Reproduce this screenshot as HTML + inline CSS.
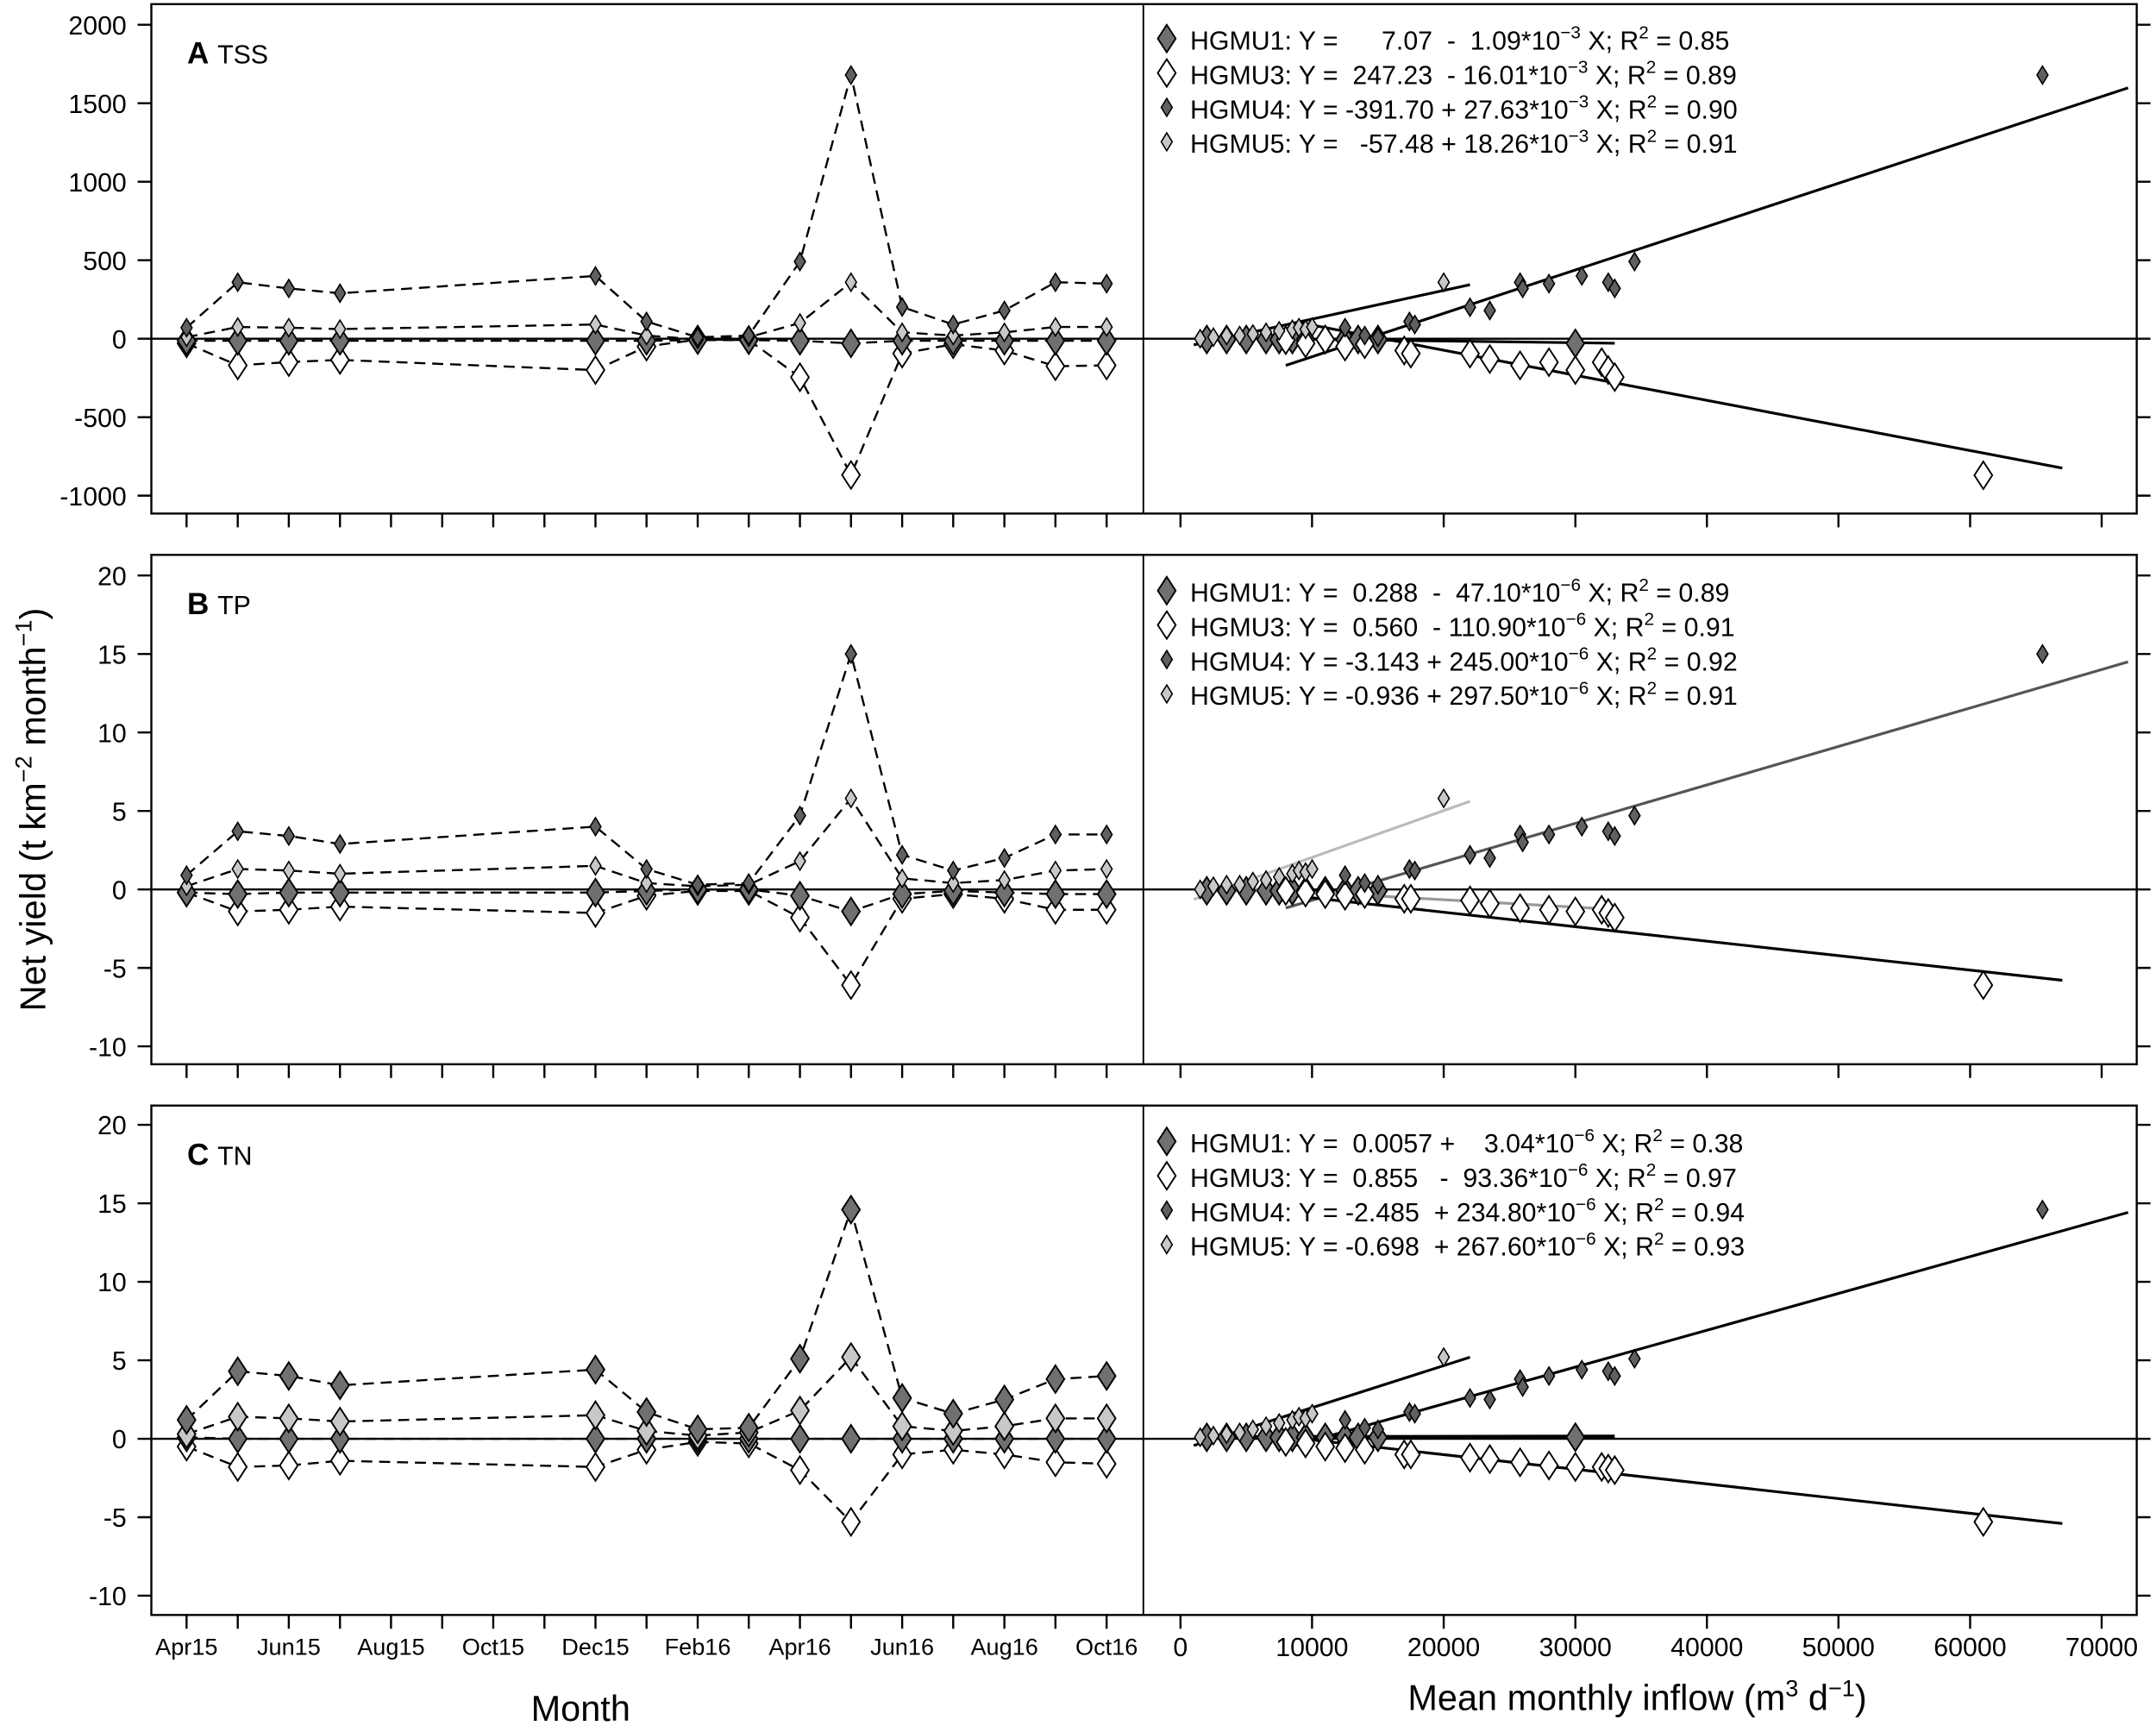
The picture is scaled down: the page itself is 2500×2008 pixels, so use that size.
<!DOCTYPE html>
<html><head><meta charset="utf-8"><style>
html,body{margin:0;padding:0;background:#fff}
svg{display:block}
text{font-family:"Liberation Sans",sans-serif;fill:#000}
.t{font-size:19px}
.m{font-size:17px}
.lg{font-size:19px}
</style></head><body>
<svg width="2500" height="2008" viewBox="0 0 1567 1258" preserveAspectRatio="none" xmlns="http://www.w3.org/2000/svg">
<defs>
<path id="bd" d="M0,-10 L6.5,0 L0,10 L-6.5,0Z" fill="#707070" stroke="#000" stroke-width="1.2"/>
<path id="bw" d="M0,-10 L6.5,0 L0,10 L-6.5,0Z" fill="#fff" stroke="#000" stroke-width="1.2"/>
<path id="sd" d="M0,-6.5 L4,0 L0,6.5 L-4,0Z" fill="#606060" stroke="#000" stroke-width="1"/>
<path id="sl" d="M0,-6.5 L4,0 L0,6.5 L-4,0Z" fill="#c8c8c8" stroke="#000" stroke-width="1"/>
<path id="bl" d="M0,-10 L6.5,0 L0,10 L-6.5,0Z" fill="#c8c8c8" stroke="#000" stroke-width="1.2"/>
</defs>
<g fill="none" stroke="#000" stroke-width="1.5">
<rect x="110" y="3" width="1443" height="370"/>
<rect x="110" y="403" width="1443" height="370"/>
<rect x="110" y="803" width="1443" height="370"/>
<path d="M831,3V373M831,403V773M831,803V1173" stroke-width="1.2"/>
<path d="M110,246H1553M110,646H1553M110,1045H1553"/>
<path d="M100,18H110M100,75H110M100,132H110M100,189H110M100,246H110M100,303H110M100,360H110
M100,418H110M100,475H110M100,532H110M100,589H110M100,646H110M100,703H110M100,760H110
M100,817H110M100,874H110M100,931H110M100,988H110M100,1045H110M100,1102H110M100,1159H110"/>
<path d="M1553,18H1563M1553,75H1563M1553,132H1563M1553,189H1563M1553,246H1563M1553,303H1563M1553,360H1563
M1553,418H1563M1553,475H1563M1553,532H1563M1553,589H1563M1553,646H1563M1553,703H1563M1553,760H1563
M1553,817H1563M1553,874H1563M1553,931H1563M1553,988H1563M1553,1045H1563M1553,1102H1563M1553,1159H1563"/>
<path id="bt" d="M135.6,0v10M172.8,0v10M209.9,0v10M247.1,0v10M284.2,0v10M321.4,0v10M358.5,0v10M395.7,0v10M432.8,0v10M469.9,0v10M507.1,0v10M544.2,0v10M581.4,0v10M618.5,0v10M655.7,0v10M692.8,0v10M730,0v10M767.1,0v10M804.3,0v10M858,0v10M953.6,0v10M1049.3,0v10M1145,0v10M1240.6,0v10M1336.2,0v10M1431.9,0v10M1527.5,0v10" transform="translate(0,373)"/>
<use href="#bt" y="400"/>
<use href="#bt" y="800"/>
</g>
<g class="t" text-anchor="end">
<text x="92" y="25">2000</text><text x="92" y="82">1500</text><text x="92" y="139">1000</text><text x="92" y="196">500</text><text x="92" y="253">0</text><text x="92" y="310">-500</text><text x="92" y="367">-1000</text>
<text x="92" y="425">20</text><text x="92" y="482">15</text><text x="92" y="539">10</text><text x="92" y="596">5</text><text x="92" y="653">0</text><text x="92" y="710">-5</text><text x="92" y="767">-10</text>
<text x="92" y="824">20</text><text x="92" y="881">15</text><text x="92" y="938">10</text><text x="92" y="995">5</text><text x="92" y="1052">0</text><text x="92" y="1109">-5</text><text x="92" y="1166">-10</text>
</g>
<g class="m" text-anchor="middle">
<text x="135.6" y="1202">Apr15</text><text x="209.9" y="1202">Jun15</text><text x="284.2" y="1202">Aug15</text><text x="358.5" y="1202">Oct15</text><text x="432.8" y="1202">Dec15</text><text x="507.1" y="1202">Feb16</text><text x="581.4" y="1202">Apr16</text><text x="655.7" y="1202">Jun16</text><text x="730" y="1202">Aug16</text><text x="804.3" y="1202">Oct16</text>
</g>
<g class="t" text-anchor="middle">
<text x="858" y="1203">0</text><text x="953.6" y="1203">10000</text><text x="1049.3" y="1203">20000</text><text x="1145" y="1203">30000</text><text x="1240.6" y="1203">40000</text><text x="1336.2" y="1203">50000</text><text x="1431.9" y="1203">60000</text><text x="1527.5" y="1203">70000</text>
</g>
<text x="422" y="1250" text-anchor="middle" style="font-size:26px">Month</text>
<text x="1190" y="1242" text-anchor="middle" style="font-size:26px">Mean monthly inflow (m<tspan dy="-10" style="font-size:17px">3</tspan><tspan dy="10"> d</tspan><tspan dy="-10" style="font-size:17px">−1</tspan><tspan dy="10">)</tspan></text>
<text transform="translate(33,588) rotate(-90)" text-anchor="middle" style="font-size:26px">Net yield (t km<tspan dy="-10" style="font-size:17px">−2</tspan><tspan dy="10"> month</tspan><tspan dy="-10" style="font-size:17px">−1</tspan><tspan dy="10">)</tspan></text>
<text x="136" y="46" style="font-size:22px;font-weight:bold">A</text><text x="158" y="46" style="font-size:19px">TSS</text>
<text x="136" y="446" style="font-size:22px;font-weight:bold">B</text><text x="158" y="446" style="font-size:19px">TP</text>
<text x="136" y="846" style="font-size:22px;font-weight:bold">C</text><text x="158" y="846" style="font-size:19px">TN</text>

<g fill="none" stroke="#000" stroke-width="1.5" stroke-dasharray="8,5">
<polyline points="135.6,238 172.8,205 209.9,209.5 247.1,213 432.8,200.4 469.9,233.5 507.1,245 544.2,243.7 581.4,190 618.5,54.5 655.7,223 692.8,235.7 730,225.5 767.1,205 804.3,206"/>
<polyline points="135.6,244.9 172.8,237.5 209.9,238 247.1,239 432.8,235.7 469.9,243.7 507.1,246.6 544.2,244.9 581.4,234.6 618.5,205 655.7,241.4 692.8,243.7 730,241.4 767.1,237.5 804.3,237.5"/>
<polyline points="135.6,247.5 172.8,247.5 209.9,247.5 247.1,247.5 432.8,247.5 469.9,247.5 507.1,247 544.2,247 581.4,247.5 618.5,249.4 655.7,247.5 692.8,247.5 730,247.5 767.1,247.5 804.3,247.5"/>
<polyline points="135.6,249.4 172.8,265.4 209.9,263 247.1,261.4 432.8,268.8 469.9,251.7 507.1,246.6 544.2,247 581.4,274 618.5,345 655.7,256.8 692.8,250 730,254.6 767.1,266 804.3,265.4"/>
<polyline points="135.6,635.7 172.8,603.8 209.9,607.2 247.1,613 432.8,600.4 469.9,631.2 507.1,642.6 544.2,641.4 581.4,592.4 618.5,475 655.7,620.9 692.8,632.3 730,623.2 767.1,606.1 804.3,606.1"/>
<polyline points="135.6,643.7 172.8,631.2 209.9,632.3 247.1,634.6 432.8,628.9 469.9,641.4 507.1,643.7 544.2,642.6 581.4,625.5 618.5,579.9 655.7,638 692.8,641.4 730,639.2 767.1,632.3 804.3,631.2"/>
<polyline points="135.6,648.3 172.8,649.4 209.9,648.3 247.1,648.3 432.8,648.3 469.9,647.1 507.1,646 544.2,646 581.4,650.6 618.5,662 655.7,649.4 692.8,647.1 730,648.3 767.1,649.4 804.3,649.4"/>
<polyline points="135.6,648.3 172.8,662 209.9,660.8 247.1,658.5 432.8,663.1 469.9,650.6 507.1,647.1 544.2,647.1 581.4,666.5 618.5,715.5 655.7,652.8 692.8,649.4 730,652.8 767.1,660.8 804.3,660.8"/>
<polyline points="135.6,1031.3 172.8,996 209.9,999.4 247.1,1006.2 432.8,994.8 469.9,1025.6 507.1,1038.2 544.2,1037 581.4,986.9 618.5,878.6 655.7,1015.4 692.8,1026.8 730,1016.5 767.1,1001.7 804.3,999.4"/>
<polyline points="135.6,1041.6 172.8,1029 209.9,1030.2 247.1,1032.5 432.8,1027.9 469.9,1039.3 507.1,1042.7 544.2,1040.4 581.4,1024.5 618.5,985.7 655.7,1035.9 692.8,1039.3 730,1035.9 767.1,1030.2 804.3,1030.2"/>
<polyline points="135.6,1044 172.8,1045 209.9,1045 247.1,1045 432.8,1045 469.9,1045 507.1,1045 544.2,1045 581.4,1045 618.5,1045 655.7,1045 692.8,1045 730,1045 767.1,1045 804.3,1045"/>
<polyline points="135.6,1050.7 172.8,1065.5 209.9,1064.4 247.1,1061 432.8,1065.5 469.9,1053 507.1,1047.3 544.2,1048.4 581.4,1067.8 618.5,1105.4 655.7,1056.4 692.8,1053 730,1056.4 767.1,1062.1 804.3,1063.2"/>
</g>

<g>
<use href="#bw" x="135.6" y="249.4"/><use href="#bw" x="172.8" y="265.4"/><use href="#bw" x="209.9" y="263"/><use href="#bw" x="247.1" y="261.4"/><use href="#bw" x="432.8" y="268.8"/><use href="#bw" x="469.9" y="251.7"/><use href="#bw" x="507.1" y="246.6"/><use href="#bw" x="544.2" y="247"/><use href="#bw" x="581.4" y="274"/><use href="#bw" x="618.5" y="345"/><use href="#bw" x="655.7" y="256.8"/><use href="#bw" x="692.8" y="250"/><use href="#bw" x="730" y="254.6"/><use href="#bw" x="767.1" y="266"/><use href="#bw" x="804.3" y="265.4"/>
<use href="#bd" x="135.6" y="247.5"/><use href="#bd" x="172.8" y="247.5"/><use href="#bd" x="209.9" y="247.5"/><use href="#bd" x="247.1" y="247.5"/><use href="#bd" x="432.8" y="247.5"/><use href="#bd" x="469.9" y="247.5"/><use href="#bd" x="507.1" y="247"/><use href="#bd" x="544.2" y="247"/><use href="#bd" x="581.4" y="247.5"/><use href="#bd" x="618.5" y="249.4"/><use href="#bd" x="655.7" y="247.5"/><use href="#bd" x="692.8" y="247.5"/><use href="#bd" x="730" y="247.5"/><use href="#bd" x="767.1" y="247.5"/><use href="#bd" x="804.3" y="247.5"/>
<use href="#sl" x="135.6" y="244.9"/><use href="#sl" x="172.8" y="237.5"/><use href="#sl" x="209.9" y="238"/><use href="#sl" x="247.1" y="239"/><use href="#sl" x="432.8" y="235.7"/><use href="#sl" x="469.9" y="243.7"/><use href="#sl" x="507.1" y="246.6"/><use href="#sl" x="544.2" y="244.9"/><use href="#sl" x="581.4" y="234.6"/><use href="#sl" x="618.5" y="205"/><use href="#sl" x="655.7" y="241.4"/><use href="#sl" x="692.8" y="243.7"/><use href="#sl" x="730" y="241.4"/><use href="#sl" x="767.1" y="237.5"/><use href="#sl" x="804.3" y="237.5"/>
<use href="#sd" x="135.6" y="238"/><use href="#sd" x="172.8" y="205"/><use href="#sd" x="209.9" y="209.5"/><use href="#sd" x="247.1" y="213"/><use href="#sd" x="432.8" y="200.4"/><use href="#sd" x="469.9" y="233.5"/><use href="#sd" x="507.1" y="245"/><use href="#sd" x="544.2" y="243.7"/><use href="#sd" x="581.4" y="190"/><use href="#sd" x="618.5" y="54.5"/><use href="#sd" x="655.7" y="223"/><use href="#sd" x="692.8" y="235.7"/><use href="#sd" x="730" y="225.5"/><use href="#sd" x="767.1" y="205"/><use href="#sd" x="804.3" y="206"/>
</g>
<g>
<use href="#bw" x="135.6" y="648.3"/><use href="#bw" x="172.8" y="662"/><use href="#bw" x="209.9" y="660.8"/><use href="#bw" x="247.1" y="658.5"/><use href="#bw" x="432.8" y="663.1"/><use href="#bw" x="469.9" y="650.6"/><use href="#bw" x="507.1" y="647.1"/><use href="#bw" x="544.2" y="647.1"/><use href="#bw" x="581.4" y="666.5"/><use href="#bw" x="618.5" y="715.5"/><use href="#bw" x="655.7" y="652.8"/><use href="#bw" x="692.8" y="649.4"/><use href="#bw" x="730" y="652.8"/><use href="#bw" x="767.1" y="660.8"/><use href="#bw" x="804.3" y="660.8"/>
<use href="#bd" x="135.6" y="648.3"/><use href="#bd" x="172.8" y="649.4"/><use href="#bd" x="209.9" y="648.3"/><use href="#bd" x="247.1" y="648.3"/><use href="#bd" x="432.8" y="648.3"/><use href="#bd" x="469.9" y="647.1"/><use href="#bd" x="507.1" y="646"/><use href="#bd" x="544.2" y="646"/><use href="#bd" x="581.4" y="650.6"/><use href="#bd" x="618.5" y="662"/><use href="#bd" x="655.7" y="649.4"/><use href="#bd" x="692.8" y="647.1"/><use href="#bd" x="730" y="648.3"/><use href="#bd" x="767.1" y="649.4"/><use href="#bd" x="804.3" y="649.4"/>
<use href="#sl" x="135.6" y="643.7"/><use href="#sl" x="172.8" y="631.2"/><use href="#sl" x="209.9" y="632.3"/><use href="#sl" x="247.1" y="634.6"/><use href="#sl" x="432.8" y="628.9"/><use href="#sl" x="469.9" y="641.4"/><use href="#sl" x="507.1" y="643.7"/><use href="#sl" x="544.2" y="642.6"/><use href="#sl" x="581.4" y="625.5"/><use href="#sl" x="618.5" y="579.9"/><use href="#sl" x="655.7" y="638"/><use href="#sl" x="692.8" y="641.4"/><use href="#sl" x="730" y="639.2"/><use href="#sl" x="767.1" y="632.3"/><use href="#sl" x="804.3" y="631.2"/>
<use href="#sd" x="135.6" y="635.7"/><use href="#sd" x="172.8" y="603.8"/><use href="#sd" x="209.9" y="607.2"/><use href="#sd" x="247.1" y="613"/><use href="#sd" x="432.8" y="600.4"/><use href="#sd" x="469.9" y="631.2"/><use href="#sd" x="507.1" y="642.6"/><use href="#sd" x="544.2" y="641.4"/><use href="#sd" x="581.4" y="592.4"/><use href="#sd" x="618.5" y="475"/><use href="#sd" x="655.7" y="620.9"/><use href="#sd" x="692.8" y="632.3"/><use href="#sd" x="730" y="623.2"/><use href="#sd" x="767.1" y="606.1"/><use href="#sd" x="804.3" y="606.1"/>
</g>
<g>
<use href="#bw" x="135.6" y="1050.7"/><use href="#bw" x="172.8" y="1065.5"/><use href="#bw" x="209.9" y="1064.4"/><use href="#bw" x="247.1" y="1061"/><use href="#bw" x="432.8" y="1065.5"/><use href="#bw" x="469.9" y="1053"/><use href="#bw" x="507.1" y="1047.3"/><use href="#bw" x="544.2" y="1048.4"/><use href="#bw" x="581.4" y="1067.8"/><use href="#bw" x="618.5" y="1105.4"/><use href="#bw" x="655.7" y="1056.4"/><use href="#bw" x="692.8" y="1053"/><use href="#bw" x="730" y="1056.4"/><use href="#bw" x="767.1" y="1062.1"/><use href="#bw" x="804.3" y="1063.2"/>
<use href="#bd" x="135.6" y="1044"/><use href="#bd" x="172.8" y="1045"/><use href="#bd" x="209.9" y="1045"/><use href="#bd" x="247.1" y="1045"/><use href="#bd" x="432.8" y="1045"/><use href="#bd" x="469.9" y="1045"/><use href="#bd" x="507.1" y="1045"/><use href="#bd" x="544.2" y="1045"/><use href="#bd" x="581.4" y="1045"/><use href="#bd" x="618.5" y="1045"/><use href="#bd" x="655.7" y="1045"/><use href="#bd" x="692.8" y="1045"/><use href="#bd" x="730" y="1045"/><use href="#bd" x="767.1" y="1045"/><use href="#bd" x="804.3" y="1045"/>
<use href="#bl" x="135.6" y="1041.6"/><use href="#bl" x="172.8" y="1029"/><use href="#bl" x="209.9" y="1030.2"/><use href="#bl" x="247.1" y="1032.5"/><use href="#bl" x="432.8" y="1027.9"/><use href="#bl" x="469.9" y="1039.3"/><use href="#bl" x="507.1" y="1042.7"/><use href="#bl" x="544.2" y="1040.4"/><use href="#bl" x="581.4" y="1024.5"/><use href="#bl" x="618.5" y="985.7"/><use href="#bl" x="655.7" y="1035.9"/><use href="#bl" x="692.8" y="1039.3"/><use href="#bl" x="730" y="1035.9"/><use href="#bl" x="767.1" y="1030.2"/><use href="#bl" x="804.3" y="1030.2"/>
<use href="#bd" x="135.6" y="1031.3"/><use href="#bd" x="172.8" y="996"/><use href="#bd" x="209.9" y="999.4"/><use href="#bd" x="247.1" y="1006.2"/><use href="#bd" x="432.8" y="994.8"/><use href="#bd" x="469.9" y="1025.6"/><use href="#bd" x="507.1" y="1038.2"/><use href="#bd" x="544.2" y="1037"/><use href="#bd" x="581.4" y="986.9"/><use href="#bd" x="618.5" y="878.6"/><use href="#bd" x="655.7" y="1015.4"/><use href="#bd" x="692.8" y="1026.8"/><use href="#bd" x="730" y="1016.5"/><use href="#bd" x="767.1" y="1001.7"/><use href="#bd" x="804.3" y="999.4"/>
</g>

<g stroke="#000" stroke-width="2" fill="none">
<line x1="934.5" y1="265.4" x2="1546.7" y2="63.8"/>
<line x1="944" y1="234.3" x2="1498.9" y2="340"/>
<line x1="867.6" y1="250.5" x2="1068.4" y2="206.8"/>
<line x1="877" y1="245.4" x2="1173.6" y2="249.3"/>
</g>
<g>
<use href="#bd" x="877.1" y="246.6"/><use href="#bd" x="891.5" y="246.6"/><use href="#bd" x="905.8" y="246.6"/><use href="#bd" x="920.2" y="246.6"/><use href="#bd" x="929.7" y="246.6"/><use href="#bd" x="939.3" y="246.6"/><use href="#bd" x="948.9" y="246.6"/><use href="#bd" x="963.2" y="246.6"/><use href="#bd" x="977.6" y="246.6"/><use href="#bd" x="987.1" y="246.6"/><use href="#bd" x="1001.5" y="246.6"/><use href="#bd" x="1145" y="249.4"/>
<use href="#bw" x="934.5" y="247.1"/><use href="#bw" x="948.9" y="249.4"/><use href="#bw" x="963.2" y="246.6"/><use href="#bw" x="977.6" y="251.7"/><use href="#bw" x="991.9" y="250"/><use href="#bw" x="1020.6" y="254.6"/><use href="#bw" x="1025.4" y="256.8"/><use href="#bw" x="1068.4" y="256.8"/><use href="#bw" x="1082.8" y="260.8"/><use href="#bw" x="1104.8" y="265.4"/><use href="#bw" x="1125.8" y="263.1"/><use href="#bw" x="1145" y="268.8"/><use href="#bw" x="1164.1" y="263.1"/><use href="#bw" x="1168.9" y="268.8"/><use href="#bw" x="1173.6" y="273.9"/><use href="#bw" x="1441.5" y="345.2"/>
<use href="#sl" x="872.3" y="246"/><use href="#sl" x="881.9" y="244.9"/><use href="#sl" x="891.5" y="243.7"/><use href="#sl" x="901" y="243.7"/><use href="#sl" x="910.6" y="242.6"/><use href="#sl" x="920.2" y="241.4"/><use href="#sl" x="929.7" y="240.3"/><use href="#sl" x="939.3" y="239.2"/><use href="#sl" x="944.1" y="238"/><use href="#sl" x="948.9" y="239.2"/><use href="#sl" x="953.7" y="237.5"/><use href="#sl" x="1049.3" y="205"/>
<use href="#sd" x="977.6" y="238"/><use href="#sd" x="991.9" y="243.7"/><use href="#sd" x="1001.5" y="245"/><use href="#sd" x="1024.4" y="233.5"/><use href="#sd" x="1028.3" y="235.7"/><use href="#sd" x="1068.4" y="223.2"/><use href="#sd" x="1082.8" y="225.5"/><use href="#sd" x="1104.8" y="205"/><use href="#sd" x="1106.7" y="209.5"/><use href="#sd" x="1125.8" y="206"/><use href="#sd" x="1149.7" y="200.4"/><use href="#sd" x="1168.9" y="205"/><use href="#sd" x="1173.6" y="209.5"/><use href="#sd" x="1188" y="190"/><use href="#sd" x="1484.5" y="54.5"/>
</g>
<g stroke-width="2" fill="none">
<line x1="934.5" y1="659.5" x2="1546.7" y2="480.7" stroke="#555"/>
<line x1="944" y1="651" x2="1498.9" y2="712" stroke="#000"/>
<line x1="867.6" y1="653.3" x2="1068.4" y2="582" stroke="#bbb"/>
<line x1="877" y1="643.8" x2="1173.6" y2="660.5" stroke="#999"/>
</g>
<g>
<use href="#bd" x="877.1" y="647"/><use href="#bd" x="891.5" y="647"/><use href="#bd" x="905.8" y="647"/><use href="#bd" x="920.2" y="647"/><use href="#bd" x="929.7" y="647"/><use href="#bd" x="939.3" y="647"/><use href="#bd" x="948.9" y="647"/><use href="#bd" x="963.2" y="647"/><use href="#bd" x="977.6" y="647"/><use href="#bd" x="987.1" y="647"/><use href="#bd" x="1001.5" y="647"/>
<use href="#bw" x="934.5" y="647.1"/><use href="#bw" x="948.9" y="648.3"/><use href="#bw" x="963.2" y="649.4"/><use href="#bw" x="977.6" y="650.6"/><use href="#bw" x="991.9" y="649.4"/><use href="#bw" x="1020.6" y="652.8"/><use href="#bw" x="1025.4" y="652.8"/><use href="#bw" x="1068.4" y="654"/><use href="#bw" x="1082.8" y="656.3"/><use href="#bw" x="1104.8" y="659.7"/><use href="#bw" x="1125.8" y="660.8"/><use href="#bw" x="1145" y="662"/><use href="#bw" x="1164.1" y="660.8"/><use href="#bw" x="1168.9" y="663.1"/><use href="#bw" x="1173.6" y="666.5"/><use href="#bw" x="1441.5" y="715.5"/>
<use href="#sl" x="872.3" y="646"/><use href="#sl" x="881.9" y="643.7"/><use href="#sl" x="891.5" y="642.6"/><use href="#sl" x="901" y="642.6"/><use href="#sl" x="910.6" y="640.3"/><use href="#sl" x="920.2" y="639.2"/><use href="#sl" x="929.7" y="636.9"/><use href="#sl" x="939.3" y="634.6"/><use href="#sl" x="944.1" y="632.3"/><use href="#sl" x="948.9" y="633.5"/><use href="#sl" x="953.7" y="631.2"/><use href="#sl" x="1049.3" y="579.9"/>
<use href="#sd" x="977.6" y="635.7"/><use href="#sd" x="991.9" y="641.4"/><use href="#sd" x="1001.5" y="642.6"/><use href="#sd" x="1024.4" y="631.2"/><use href="#sd" x="1028.3" y="632.3"/><use href="#sd" x="1068.4" y="620.9"/><use href="#sd" x="1082.8" y="623.2"/><use href="#sd" x="1104.8" y="606.1"/><use href="#sd" x="1106.7" y="611.8"/><use href="#sd" x="1125.8" y="606.1"/><use href="#sd" x="1149.7" y="600.4"/><use href="#sd" x="1168.9" y="603.8"/><use href="#sd" x="1173.6" y="607.2"/><use href="#sd" x="1188" y="592.4"/><use href="#sd" x="1484.5" y="475"/>
</g>
<g stroke="#000" stroke-width="2" fill="none">
<line x1="934.5" y1="1051.8" x2="1546.7" y2="880.6"/>
<line x1="944" y1="1044.8" x2="1498.9" y2="1106.6"/>
<line x1="867.6" y1="1049.9" x2="1068.4" y2="985.8"/>
<line x1="877" y1="1044" x2="1173.6" y2="1043.5" stroke-width="3"/>
</g>
<g>
<use href="#bd" x="877.1" y="1044"/><use href="#bd" x="891.5" y="1044"/><use href="#bd" x="905.8" y="1044"/><use href="#bd" x="920.2" y="1044"/><use href="#bd" x="929.7" y="1044"/><use href="#bd" x="939.3" y="1044"/><use href="#bd" x="948.9" y="1044"/><use href="#bd" x="963.2" y="1044"/><use href="#bd" x="977.6" y="1044"/><use href="#bd" x="987.1" y="1044"/><use href="#bd" x="1001.5" y="1044"/><use href="#bd" x="1145" y="1043.9"/>
<use href="#bw" x="934.5" y="1047.3"/><use href="#bw" x="948.9" y="1048.4"/><use href="#bw" x="963.2" y="1050.7"/><use href="#bw" x="977.6" y="1051.8"/><use href="#bw" x="991.9" y="1053"/><use href="#bw" x="1020.6" y="1056.4"/><use href="#bw" x="1025.4" y="1056.4"/><use href="#bw" x="1068.4" y="1058.7"/><use href="#bw" x="1082.8" y="1059.8"/><use href="#bw" x="1104.8" y="1062.1"/><use href="#bw" x="1125.8" y="1064.4"/><use href="#bw" x="1145" y="1065.5"/><use href="#bw" x="1164.1" y="1065.5"/><use href="#bw" x="1168.9" y="1066.7"/><use href="#bw" x="1173.6" y="1067.8"/><use href="#bw" x="1441.5" y="1105.4"/>
<use href="#sl" x="872.3" y="1043.9"/><use href="#sl" x="881.9" y="1042.7"/><use href="#sl" x="891.5" y="1041.6"/><use href="#sl" x="901" y="1040.4"/><use href="#sl" x="910.6" y="1038.2"/><use href="#sl" x="920.2" y="1035.9"/><use href="#sl" x="929.7" y="1033.6"/><use href="#sl" x="939.3" y="1031.3"/><use href="#sl" x="944.1" y="1029"/><use href="#sl" x="948.9" y="1030.2"/><use href="#sl" x="953.7" y="1026.8"/><use href="#sl" x="1049.3" y="985.7"/>
<use href="#sd" x="977.6" y="1031.3"/><use href="#sd" x="991.9" y="1037"/><use href="#sd" x="1001.5" y="1038.2"/><use href="#sd" x="1024.4" y="1025.6"/><use href="#sd" x="1028.3" y="1026.8"/><use href="#sd" x="1068.4" y="1015.4"/><use href="#sd" x="1082.8" y="1016.5"/><use href="#sd" x="1104.8" y="1001.7"/><use href="#sd" x="1106.7" y="1007.4"/><use href="#sd" x="1125.8" y="999.4"/><use href="#sd" x="1149.7" y="994.8"/><use href="#sd" x="1168.9" y="996"/><use href="#sd" x="1173.6" y="999.4"/><use href="#sd" x="1188" y="986.9"/><use href="#sd" x="1484.5" y="878.6"/>
</g>

<g>
<use href="#bd" x="848" y="28"/><use href="#bw" x="848" y="53"/><use href="#sd" x="848" y="78"/><use href="#sl" x="848" y="103"/>
<use href="#bd" x="848" y="429"/><use href="#bw" x="848" y="454"/><use href="#sd" x="848" y="479"/><use href="#sl" x="848" y="504"/>
<use href="#bd" x="848" y="829"/><use href="#bw" x="848" y="854"/><use href="#sd" x="848" y="879"/><use href="#sl" x="848" y="904"/>
</g>
<g class="lg" xml:space="preserve">
<text xml:space="preserve" x="865" y="36">HGMU1: Y =      7.07  -  1.09*10<tspan dy="-8" font-size="13">−3</tspan><tspan dy="8"> X; R</tspan><tspan dy="-8" font-size="13">2</tspan><tspan dy="8"> = 0.85</tspan></text>
<text xml:space="preserve" x="865" y="61">HGMU3: Y =  247.23  - 16.01*10<tspan dy="-8" font-size="13">−3</tspan><tspan dy="8"> X; R</tspan><tspan dy="-8" font-size="13">2</tspan><tspan dy="8"> = 0.89</tspan></text>
<text xml:space="preserve" x="865" y="86">HGMU4: Y = -391.70 + 27.63*10<tspan dy="-8" font-size="13">−3</tspan><tspan dy="8"> X; R</tspan><tspan dy="-8" font-size="13">2</tspan><tspan dy="8"> = 0.90</tspan></text>
<text xml:space="preserve" x="865" y="111">HGMU5: Y =   -57.48 + 18.26*10<tspan dy="-8" font-size="13">−3</tspan><tspan dy="8"> X; R</tspan><tspan dy="-8" font-size="13">2</tspan><tspan dy="8"> = 0.91</tspan></text>

<text xml:space="preserve" x="865" y="437">HGMU1: Y =  0.288  -  47.10*10<tspan dy="-8" font-size="13">−6</tspan><tspan dy="8"> X; R</tspan><tspan dy="-8" font-size="13">2</tspan><tspan dy="8"> = 0.89</tspan></text>
<text xml:space="preserve" x="865" y="462">HGMU3: Y =  0.560  - 110.90*10<tspan dy="-8" font-size="13">−6</tspan><tspan dy="8"> X; R</tspan><tspan dy="-8" font-size="13">2</tspan><tspan dy="8"> = 0.91</tspan></text>
<text xml:space="preserve" x="865" y="487">HGMU4: Y = -3.143 + 245.00*10<tspan dy="-8" font-size="13">−6</tspan><tspan dy="8"> X; R</tspan><tspan dy="-8" font-size="13">2</tspan><tspan dy="8"> = 0.92</tspan></text>
<text xml:space="preserve" x="865" y="512">HGMU5: Y = -0.936 + 297.50*10<tspan dy="-8" font-size="13">−6</tspan><tspan dy="8"> X; R</tspan><tspan dy="-8" font-size="13">2</tspan><tspan dy="8"> = 0.91</tspan></text>

<text xml:space="preserve" x="865" y="837">HGMU1: Y =  0.0057 +    3.04*10<tspan dy="-8" font-size="13">−6</tspan><tspan dy="8"> X; R</tspan><tspan dy="-8" font-size="13">2</tspan><tspan dy="8"> = 0.38</tspan></text>
<text xml:space="preserve" x="865" y="862">HGMU3: Y =  0.855   -  93.36*10<tspan dy="-8" font-size="13">−6</tspan><tspan dy="8"> X; R</tspan><tspan dy="-8" font-size="13">2</tspan><tspan dy="8"> = 0.97</tspan></text>
<text xml:space="preserve" x="865" y="887">HGMU4: Y = -2.485  + 234.80*10<tspan dy="-8" font-size="13">−6</tspan><tspan dy="8"> X; R</tspan><tspan dy="-8" font-size="13">2</tspan><tspan dy="8"> = 0.94</tspan></text>
<text xml:space="preserve" x="865" y="912">HGMU5: Y = -0.698  + 267.60*10<tspan dy="-8" font-size="13">−6</tspan><tspan dy="8"> X; R</tspan><tspan dy="-8" font-size="13">2</tspan><tspan dy="8"> = 0.93</tspan></text>
</g>
</svg>
</body></html>
